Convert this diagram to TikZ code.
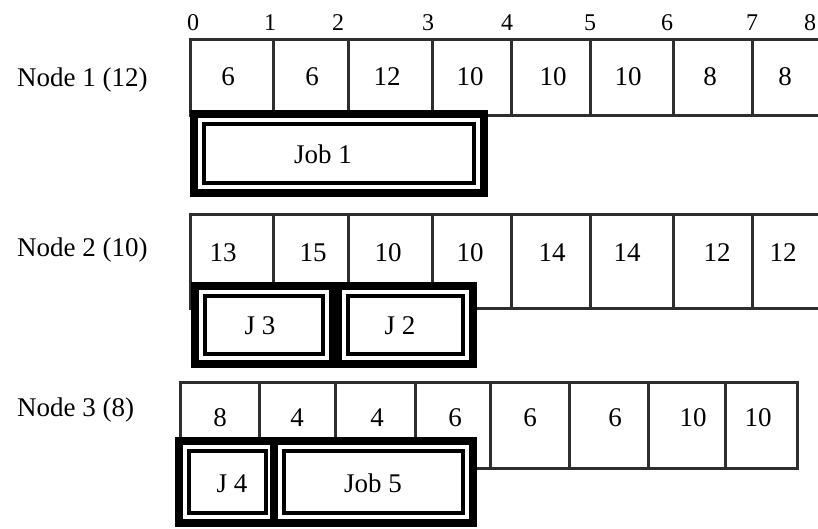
\documentclass[tikz,border=0pt]{standalone}
\usepackage{fontspec}
\setmainfont{Liberation Serif}
\newcommand\jobframe[4]{%
  \fill[black] (#1,#2) rectangle (#3,#4);
  \fill[white] (#1+8,#2+8) rectangle (#3-8,#4-8);
  \draw[line width=4.5pt] (#1+14,#2+14) rectangle (#3-14,#4-14);
}
\begin{document}
\begin{tikzpicture}[x=1pt,y=-1pt,
  gridline/.style={line width=3pt, black!82},
  celltxt/.style={anchor=base, inner sep=0pt, font=\fontsize{27}{30}\selectfont},
  ticktxt/.style={anchor=base, inner sep=0pt, font=\fontsize{24}{28}\selectfont},
  rowlabel/.style={anchor=base west, inner sep=0pt, font=\fontsize{27}{30}\selectfont}]
\useasboundingbox[fill=white] (0,0) rectangle (818,529);

% tick labels
\foreach \x/\t [count=\i] in {193/0,270/1,338/2,428/3,507/4,590/5,667/6,752/7,810/8}
  \node[ticktxt] (tick\i) at (\x,31) {\t};

% row labels
\node[rowlabel] (lab1) at (17,87) {Node 1 (12)};
\node[rowlabel] (lab2) at (17,256) {Node 2 (10)};
\node[rowlabel] (lab3) at (17,416) {Node 3 (8)};

% row 1 grid
\draw[gridline] (820,40) -- (190,40) -- (190,116) -- (820,116);
\foreach \x in {273,348,432,511,590,673,752}
  \draw[gridline] (\x,40) -- (\x,116);
\foreach \x/\t [count=\i] in {228/6,312/6,387/12,470/10,553/10,628/10,710/8,785/8}
  \node[celltxt] (ra\i) at (\x,86) {\t};

% row 2 grid
\draw[gridline] (820,215) -- (190,215) -- (190,308) -- (820,308);
\foreach \x in {273,348,432,511,590,673,752}
  \draw[gridline] (\x,215) -- (\x,308);
\foreach \x/\t [count=\i] in {223/13,313/15,388/10,470/10,552/14,627/14,717/12,783/12}
  \node[celltxt] (rb\i) at (\x,261) {\t};

% row 3 grid
\draw[gridline] (180,382) rectangle (797,468);
\foreach \x in {259,335,415,490,569,648,725}
  \draw[gridline] (\x,382) -- (\x,468);
\foreach \x/\t [count=\i] in {220/8,297/4,377/4,455/6,530/6,615/6,693/10,758/10}
  \node[celltxt] (rc\i) at (\x,426) {\t};

% jobs
\jobframe{190}{110}{488}{197}
\node[celltxt] (job1) at (323,164) {Job 1};

\jobframe{191}{282}{337}{368}
\jobframe{334}{282}{477}{368}
\node[celltxt] (job3) at (260,334) {J 3};
\node[celltxt] (job2) at (400,334) {J 2};

\jobframe{175}{437}{280}{527}
\jobframe{270}{437}{477}{527}
\node[celltxt] (job4) at (232,492) {J 4};
\node[celltxt] (job5) at (373,492) {Job 5};
\end{tikzpicture}
\end{document}
